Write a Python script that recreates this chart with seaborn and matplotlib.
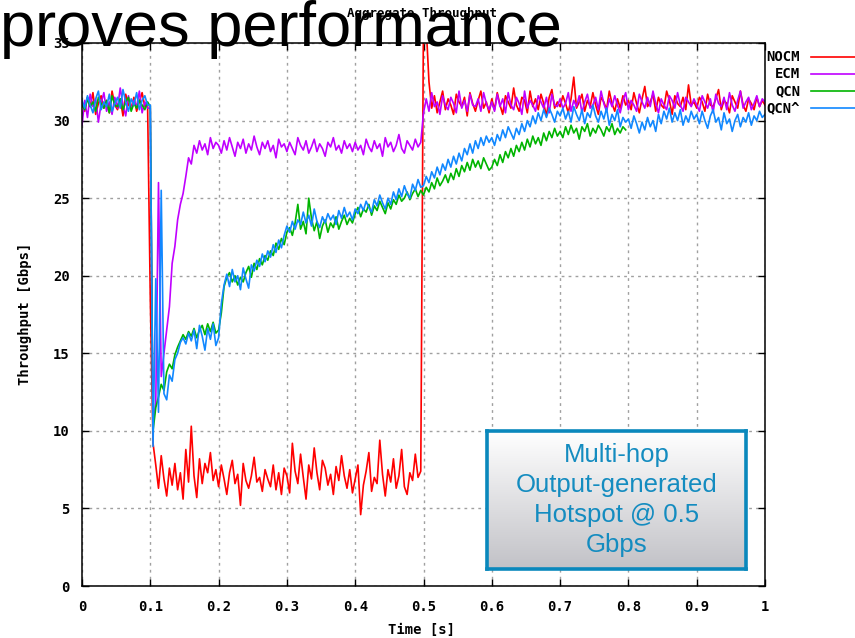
import numpy as np
import pandas as pd
import matplotlib
matplotlib.use("Agg")
import matplotlib.pyplot as plt
from matplotlib.lines import Line2D
import seaborn as sns

# ---------------- data ----------------
series_names = ["NOCM", "ECM", "QCN", "QCN^"]
series_colors = ["#ff0000", "#c000ff", "#00b400", "#1188ff"]

x_ticks = [0, 0.1, 0.2, 0.3, 0.4, 0.5, 0.6, 0.7, 0.8, 0.9, 1.0]
x_tick_labels = ["0", "0.1", "0.2", "0.3", "0.4", "0.5", "0.6", "0.7", "0.8", "0.9", "1"]
y_ticks = [0, 5, 10, 15, 20, 25, 30, 35]
y_tick_labels = ["0", "5", "10", "15", "20", "25", "30", "35"]

sample_step_s = 0.004

nocm_gbps = [
    31.2, 30.6, 31.5, 30.9, 31.8, 30.4, 31.1, 31.6, 30.8, 31.3, 30.5, 31.9, 31.0, 30.7, 31.4, 30.3, 31.7, 31.0, 30.8, 31.5, 30.6, 31.2, 31.8, 30.9, 31.1,
    18.5, 9.2, 7.8, 6.3, 8.4, 6.9, 5.8, 7.6, 6.5, 7.9, 6.2, 7.3, 5.6, 8.8, 6.7, 10.3, 7.1, 5.7, 8.2, 6.6, 7.9, 7.3, 8.6, 6.8, 7.5,
    6.4, 7.8, 6.9, 5.9, 7.3, 8.1, 6.6, 7.2, 5.2, 7.9, 6.8, 6.3, 7.1, 8.3, 6.7, 7.0, 6.1, 7.5, 6.9, 6.4, 7.8, 6.2, 7.3, 5.9, 7.6,
    7.1, 6.0, 9.2, 7.4, 6.6, 8.5, 7.0, 5.6, 7.8, 6.9, 8.9, 7.3, 6.2, 8.1, 7.6, 6.5, 7.2, 5.9, 7.7, 6.8, 8.4, 7.1, 6.3, 7.5, 6.0,
    6.9, 7.8, 4.6, 6.5, 7.4, 8.6, 6.1, 7.0, 6.6, 9.4, 7.2, 5.8, 7.5, 6.7, 8.2, 6.3, 7.1, 8.8, 6.4, 5.9, 7.3, 6.8, 8.5, 7.0, 7.4,
    37.0, 36.0, 32.5, 30.8, 31.6, 30.5, 31.2, 31.9, 30.7, 31.4, 31.0, 30.4, 31.7, 31.2, 30.9, 31.5, 30.3, 31.8, 31.1, 30.6, 31.3, 31.9, 30.8, 31.2, 30.5,
    31.4, 30.7, 31.8, 31.0, 30.4, 31.6, 31.2, 30.8, 32.1, 31.0, 30.6, 31.5, 31.3, 30.5, 31.9, 30.9, 31.4, 30.7, 31.7, 31.1, 30.3, 31.5, 32.0, 30.8, 31.2,
    30.9, 31.6, 31.1, 30.5, 31.4, 32.8, 30.8, 31.2, 31.7, 30.6, 31.3, 30.9, 31.8, 31.0, 30.4, 31.5, 31.2, 30.7, 31.9, 31.1, 30.6, 31.4, 30.8, 31.6, 31.0,
    31.3, 30.7, 31.8, 31.1, 30.5, 31.4, 32.2, 30.9, 31.2, 31.7, 30.6, 31.5, 31.0, 30.8, 31.9, 31.3, 30.4, 31.6, 31.1, 30.9, 31.5, 30.7, 32.3, 31.0, 31.2,
    30.8, 31.5, 31.2, 30.6, 31.7, 31.0, 30.9, 31.4, 32.0, 30.7, 31.3, 31.1, 30.5, 31.6, 31.2, 30.8, 31.9, 31.0, 30.6, 31.4, 31.1, 30.7, 31.5, 30.9, 31.3,
    31.0,
]

ecm_gbps = [
    29.7, 31.3, 30.2, 31.7, 30.9, 31.4, 29.9, 31.1, 31.8, 30.6, 31.2, 30.4, 31.5, 30.8, 32.1, 31.0, 30.3, 31.6, 30.7, 31.3, 30.9, 31.9, 30.5, 31.2, 30.8,
    30.8, 10.5, 11.8, 26.0, 13.5, 15.0, 16.5, 18.0, 20.8, 21.9, 23.6, 24.6, 25.3, 26.4, 27.6, 27.2, 28.4, 27.9, 28.7, 28.1, 28.5, 27.8, 28.9, 28.2, 28.6,
    28.4, 27.9, 28.7, 28.1, 28.9, 28.3, 27.7, 28.6, 28.2, 28.8, 27.9, 28.5, 28.1, 29.0, 28.3, 27.8, 28.6, 28.2, 28.7, 28.0, 28.4, 27.6, 28.8, 28.3, 28.5,
    28.0, 28.6, 28.2, 27.8, 28.9, 28.4, 28.1, 28.7, 27.9, 28.3, 28.8, 28.0, 28.5, 28.2, 27.7, 28.6, 28.3, 28.9, 28.1, 28.4, 27.9, 28.7, 28.2, 28.5, 28.0,
    28.6, 28.1, 28.4, 27.8, 28.8, 28.3, 28.0, 28.7, 28.2, 28.5, 27.7, 28.9, 28.3, 28.6, 28.0, 28.4, 29.1, 28.2, 27.9, 28.7, 28.4, 28.1, 28.8, 28.3, 28.6,
    30.5, 31.4, 30.6, 31.8, 30.9, 31.2, 30.4, 31.6, 31.0, 30.7, 31.5, 31.1, 30.5, 31.9, 30.8, 31.3, 30.6, 31.7, 31.0, 30.9, 31.4, 30.6, 31.8, 31.1, 30.7,
    31.2, 30.6, 31.7, 30.9, 31.4, 30.5, 31.8, 31.0, 30.7, 31.5, 31.1, 30.4, 31.9, 30.8, 31.3, 31.0, 30.6, 31.6, 31.2, 30.8, 31.5, 30.5, 31.7, 31.0, 30.9,
    31.4, 30.8, 31.1, 31.8, 30.6, 31.3, 30.9, 31.6, 30.5, 31.2, 31.7, 30.8, 31.0, 31.5, 30.7, 31.9, 31.1, 30.6, 31.4, 30.9, 31.6, 31.0, 30.5, 31.3, 31.8,
    30.7, 31.3, 31.0, 30.6, 31.7, 31.2, 30.8, 31.5, 30.9, 31.9, 31.1, 30.5, 31.4, 31.0, 30.7, 31.6, 31.3, 30.8, 31.8, 31.0, 30.6, 31.5, 31.2, 30.9, 31.4,
    31.0, 30.6, 31.6, 31.2, 30.8, 31.4, 30.5, 31.7, 31.1, 30.9, 31.5, 30.7, 31.8, 31.0, 30.6, 31.3, 31.9, 30.8, 31.2, 31.5, 30.7, 31.1, 31.6, 30.9, 31.4,
    31.2,
]

# QCN ends at about 0.8 s
qcn_gbps = [
    31.0, 30.7, 31.4, 30.9, 31.2, 30.6, 31.5, 31.1, 30.8, 31.3, 30.5, 31.6, 31.0, 30.9, 31.4, 30.7, 31.2, 31.5, 30.6, 31.1, 30.8, 31.3, 31.0, 30.7, 31.2,
    30.9, 10.0, 11.5, 12.2, 13.0, 12.6, 13.8, 14.3, 14.0, 14.9, 15.4, 15.8, 16.2, 15.9, 16.4, 16.1, 16.6, 16.0, 16.5, 16.8, 16.2, 16.9, 16.4, 17.0, 16.3,
    16.5, 17.6, 19.3, 19.9, 20.2, 19.6, 20.0, 19.4, 19.9, 19.6, 20.2, 20.6, 19.9, 20.8, 20.4, 21.1, 20.7, 21.3, 21.0, 21.6, 21.3, 22.1, 21.7, 22.4, 22.0,
    22.8, 23.1, 22.6, 23.4, 24.6, 23.0, 23.5, 22.7, 25.0, 23.7, 22.9, 23.5, 22.4, 23.2, 23.6, 22.8, 23.4, 23.1, 23.8, 23.0, 23.5, 23.9, 23.3, 23.7, 23.4,
    24.0, 24.4, 23.8, 24.3, 24.1, 24.6, 23.9, 24.5, 24.2, 24.8, 24.4, 24.0, 24.7, 24.3, 24.9, 24.6, 25.2, 24.8, 25.0, 25.4, 24.9, 25.3, 25.6, 25.1, 25.5,
    25.2, 25.7, 25.4, 26.0, 25.6, 26.3, 25.8, 26.1, 26.5, 26.0, 26.6, 26.2, 26.9, 26.4, 27.1, 26.7, 27.3, 26.8, 27.5, 27.0, 27.4, 26.9, 27.6, 27.2, 26.8,
    27.0, 27.5, 27.1, 27.8, 27.3, 28.0, 27.6, 28.2, 27.7, 28.4, 28.0, 28.6, 28.1, 28.8, 28.3, 29.0, 28.5, 28.9, 28.4, 29.2, 28.7, 29.3, 28.9, 29.5, 29.0,
    29.3, 28.9, 29.6, 29.1, 29.7, 29.2, 29.5, 28.8, 29.6, 29.3, 29.8, 29.0, 29.5, 29.2, 29.7, 29.4, 29.0, 29.6, 29.3, 29.8, 29.1, 29.5, 29.2, 29.6, 29.4,
]

qcn_hat_gbps = [
    31.3, 30.8, 31.6, 31.0, 30.5, 31.4, 31.9, 30.7, 31.2, 30.9, 31.7, 30.6, 31.1, 31.5, 30.8, 32.0, 31.2, 30.6, 31.4, 31.0, 31.8, 30.7, 31.3, 31.6, 31.0,
    31.0, 9.0, 19.8, 11.2, 25.5, 12.4, 12.0, 13.6, 13.2, 14.6, 15.0, 15.7, 16.0, 15.6, 16.3, 15.8, 16.5, 15.3, 16.8, 16.1, 15.2, 16.6, 15.9, 16.9, 15.5,
    16.0, 18.2, 19.4, 20.1, 19.3, 20.4, 19.6, 20.0, 19.1, 20.5, 19.8, 19.2, 20.7, 20.3, 21.0, 20.6, 21.4, 20.9, 21.6, 21.2, 22.0, 21.5, 22.3, 21.8, 22.6,
    23.2, 22.8, 23.5, 23.0, 23.6, 23.3, 24.1, 23.4, 23.9, 23.2, 24.3, 23.5, 23.1, 23.8, 23.4, 24.0, 23.6, 23.9, 23.3, 24.2, 23.7, 24.4, 23.8, 24.1, 23.6,
    24.3, 24.0, 24.6, 24.2, 24.8, 24.4, 24.1, 24.9, 24.5, 25.2, 24.7, 24.3, 25.0, 24.6, 25.4, 24.9, 25.6, 25.1, 25.8, 25.3, 25.0, 25.9, 25.5, 26.2, 25.7,
    25.8, 26.4, 26.0, 26.7, 26.3, 27.0, 26.5, 27.2, 26.8, 27.5, 27.0, 27.7, 27.2, 27.9, 27.4, 28.2, 27.8, 28.5, 27.9, 28.7, 28.2, 28.9, 28.4, 29.0, 28.6,
    28.9, 28.4, 29.1, 28.7, 29.4, 28.9, 29.6, 29.2, 28.8, 29.5, 29.1, 29.8, 29.3, 30.0, 29.6, 30.3, 29.8, 30.5, 30.0, 30.7, 30.2, 30.8, 30.4, 29.9, 30.6,
    30.3, 30.8, 30.1, 30.6, 29.9, 30.9, 30.4, 30.0, 30.7, 29.8, 30.5, 30.2, 31.0, 30.3, 29.9, 30.6, 30.1, 30.8, 29.7, 30.4, 30.0, 30.7, 29.6, 30.2, 29.9,
    30.1, 29.5, 30.3, 29.8, 29.2, 29.9, 29.4, 30.2, 29.6, 30.0, 29.3, 30.4, 29.8, 30.6, 30.1, 30.8, 29.9, 30.5, 30.0, 30.7, 29.7, 30.3, 29.9, 30.6, 30.1,
    30.4, 29.8, 30.6, 30.0, 29.5, 30.3, 30.7, 29.9, 30.2, 29.4, 30.5, 29.8, 30.1, 29.3, 30.0, 30.4, 29.6, 30.2, 29.9, 30.5, 29.7, 30.3, 30.0, 30.6, 30.2,
    30.4,
]

series_values = [nocm_gbps, ecm_gbps, qcn_gbps, qcn_hat_gbps]

# ---------------- long-form table ----------------
frames = []
for name, vals in zip(series_names, series_values):
    t = np.round(np.arange(len(vals)) * sample_step_s, 3)
    frames.append(pd.DataFrame({"time": t, "value": vals, "series": name}))
df = pd.concat(frames, ignore_index=True)

# ---------------- figure ----------------
W, H = 855, 638
fig = plt.figure(figsize=(W / 100, H / 100), dpi=100)
fig.patch.set_facecolor("white")

def fx(px):
    return px / W

def fy(py):
    return 1 - py / H

ax_l, ax_r, ax_t, ax_b = 82, 765, 43, 586
ax = fig.add_axes([fx(ax_l), fy(ax_b), fx(ax_r) - fx(ax_l), fy(ax_t) - fy(ax_b)])

mono = {"family": "DejaVu Sans Mono", "weight": "bold", "size": 10}

sns.lineplot(data=df, x="time", y="value", hue="series", hue_order=series_names,
             palette=dict(zip(series_names, series_colors)), estimator=None,
             errorbar=None, sort=False, legend=False, linewidth=1.2, ax=ax)

ax.set_xlim(0, 1)
ax.set_ylim(0, 35)
ax.set_xticks(x_ticks)
ax.set_xticklabels(x_tick_labels, fontdict=mono)
ax.set_yticks(y_ticks)
ax.set_yticklabels(y_tick_labels, fontdict=mono)
ax.set_xlabel("")
ax.set_ylabel("")
ax.tick_params(direction="in", length=5, width=1, top=True, right=True,
               color="black")
ax.tick_params(axis="x", pad=10)
ax.tick_params(axis="y", pad=9)
ax.grid(True, color="#a0a0a0", linestyle=(0, (2, 3)), linewidth=1)
ax.set_axisbelow(True)
for sp in ax.spines.values():
    sp.set_color("black")
    sp.set_linewidth(1.1)

# axis labels / title (gnuplot-like mono font)
fig.text(fx(25), fy(314), "Throughput [Gbps]", rotation=90, ha="center",
         va="center", **mono)
fig.text(fx(421), fy(630), "Time [s]", ha="center", va="center", **mono)
fig.text(fx(422), fy(14), "Aggregate Throughput", ha="center", va="center",
         family="DejaVu Sans Mono", weight="bold", size=9)

# legend (gnuplot style: text then line sample)
leg_y = [57, 74, 91, 108]
for name, col, yy in zip(series_names, series_colors, leg_y):
    fig.text(fx(800), fy(yy), name, ha="right", va="center", **mono)
    fig.add_artist(Line2D([fx(811), fx(880)], [fy(yy), fy(yy)], color=col,
                          linewidth=1.2, transform=fig.transFigure))

# slide title overlay
fig.text(0.0, fy(46), "proves performance", ha="left", va="baseline",
         family="Liberation Sans", size=45.5, color="black")

# annotation box with gradient
bx_l, bx_r, bx_t, bx_b = 487, 746, 431, 569
bax = fig.add_axes([fx(bx_l), fy(bx_b), fx(bx_r) - fx(bx_l), fy(bx_t) - fy(bx_b)])
grad = np.linspace(0, 1, 256).reshape(-1, 1)
top_c = np.array([1.0, 1.0, 1.0])
bot_c = np.array([0.76, 0.76, 0.78])
img = top_c[None, None, :] * (1 - grad[:, :, None]) + bot_c[None, None, :] * grad[:, :, None]
bax.imshow(img, aspect="auto", extent=[0, 1, 0, 1])
bax.set_xticks([])
bax.set_yticks([])
for sp in bax.spines.values():
    sp.set_color("#0a88bc")
    sp.set_linewidth(2.6)
bax.text(0.5, 0.5, "Multi-hop\nOutput-generated\nHotspot @ 0.5\nGbps",
         ha="center", va="center", transform=bax.transAxes,
         family="Liberation Sans", size=18.5, color="#148cc0", linespacing=1.3)

fig.savefig("out.png", dpi=100)
